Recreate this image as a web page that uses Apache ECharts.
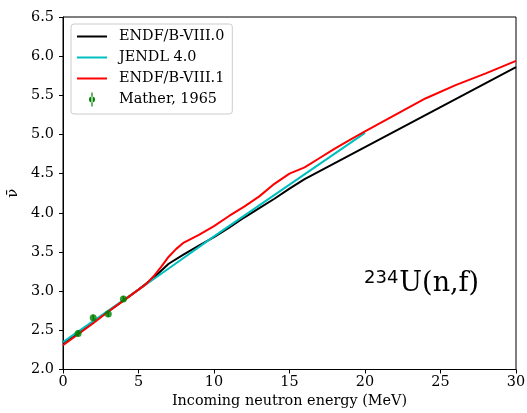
<!DOCTYPE html>
<html>
<head>
<meta charset="utf-8">
<script src="https://cdn.jsdelivr.net/npm/echarts@6/dist/echarts.min.js"></script>
<style>
  html, body { margin: 0; padding: 0; background: #fff; }
  #chart { width: 527px; height: 413px; }
</style>
</head>
<body>
<div id="chart"></div>
<script>
// Prompt fission neutron multiplicity for 234U(n,f)
const xTicks = [0, 5, 10, 15, 20, 25, 30];
const yTicks = [2.0, 2.5, 3.0, 3.5, 4.0, 4.5, 5.0, 5.5, 6.0, 6.5];

const energyEndf80 = [0, 1, 2, 3, 4, 5, 6, 7, 8, 9, 10, 11, 12, 13, 14, 15, 16, 20, 25, 30];
const nuEndf80 = [2.34, 2.47, 2.61, 2.74, 2.88, 3.02, 3.17, 3.35, 3.47, 3.58, 3.69, 3.81, 3.94, 4.06, 4.18, 4.31, 4.43, 4.84, 5.35, 5.86];

const energyJendl = [0, 5, 7, 10, 15, 20];
const nuJendl = [2.35, 3.02, 3.29, 3.70, 4.36, 5.02];

const energyEndf81 = [0, 1, 2, 3, 4, 5, 5.5, 6, 6.5, 7, 7.5, 8, 9, 10, 11, 12, 13, 14, 15, 16, 17, 18, 19, 20, 22, 24, 26, 28, 30];
const nuEndf81 = [2.31, 2.45, 2.59, 2.74, 2.88, 3.02, 3.09, 3.19, 3.31, 3.44, 3.54, 3.62, 3.72, 3.83, 3.96, 4.08, 4.21, 4.37, 4.50, 4.58, 4.70, 4.82, 4.93, 5.04, 5.25, 5.46, 5.63, 5.78, 5.94];

const energyMather = [1, 2, 3, 4];
const nuMather = [2.46, 2.66, 2.71, 2.90];
const errMather = [0.04, 0.04, 0.04, 0.04];

const FONT = 'DejaVu Serif';
const FS = 14.4;

// legend glyphs: a 2px stroke for the evaluations, a dot with error bar for the data
const LINE_ICON = 'path://M0,0 M30,14 M0,6 h30 v2 h-30 z';
const ERR_ICON = 'path://M4.4,0 h1.2 v14 h-1.2 z M8,7 a3,3 0 1,0 -6,0 a3,3 0 1,0 6,0 z';

const pairs = (xs, ys) => xs.map((x, i) => [x, ys[i]]);

const chart = echarts.init(document.getElementById('chart'), null, { renderer: 'canvas' });

const lineSeries = (name, xs, ys, color) => ({
  name: name,
  type: 'line',
  data: pairs(xs, ys),
  showSymbol: false,
  symbol: 'none',
  lineStyle: { color: color, width: 2 },
  itemStyle: { color: color },
  z: 3,
  animation: false
});

chart.setOption({
  animation: false,
  textStyle: { fontFamily: FONT },
  grid: {
    left: 63, right: 11, top: 17, bottom: 43.5,
    containLabel: false,
    outerBoundsMode: 'none',
    show: true, borderColor: '#000', borderWidth: 1, backgroundColor: 'transparent'
  },
  xAxis: {
    type: 'value',
    min: 0, max: 30, interval: 5,
    name: 'Incoming neutron energy (MeV)',
    nameLocation: 'middle',
    nameGap: 18,
    nameTextStyle: { fontFamily: FONT, fontSize: FS, color: '#000' },
    axisLine: { show: true, onZero: false, lineStyle: { color: '#000', width: 1 } },
    axisTick: { show: true, length: 4, lineStyle: { color: '#000' } },
    axisLabel: {
      margin: 6, fontFamily: FONT, fontSize: FS, color: '#000',
      formatter: v => String(v)
    },
    splitLine: { show: false }
  },
  yAxis: {
    type: 'value',
    min: 2.0, max: 6.5, interval: 0.5,
    name: 'ν̄',
    nameLocation: 'middle',
    nameRotate: 90,
    nameGap: 42,
    nameTextStyle: { fontFamily: FONT, fontSize: 15, color: '#000' },
    axisLine: { show: true, onZero: false, lineStyle: { color: '#000', width: 1 } },
    axisTick: { show: true, length: 4, lineStyle: { color: '#000' } },
    axisLabel: {
      margin: 9, fontFamily: FONT, fontSize: FS, color: '#000',
      formatter: v => v.toFixed(1)
    },
    splitLine: { show: false }
  },
  legend: {
    left: 71, top: 24,
    orient: 'vertical',
    padding: [5, 8, 7, 6],
    itemWidth: 30, itemHeight: 14, itemGap: 6,
    borderColor: '#cccccc', borderWidth: 1, borderRadius: 3,
    backgroundColor: 'rgba(255,255,255,0.8)',
    textStyle: { fontFamily: FONT, fontSize: FS, color: '#000', lineHeight: 15, padding: [0, 0, 0, 7] },
    data: [
      { name: 'ENDF/B-VIII.0', icon: LINE_ICON },
      { name: 'JENDL 4.0', icon: LINE_ICON },
      { name: 'ENDF/B-VIII.1', icon: LINE_ICON },
      { name: 'Mather, 1965', icon: ERR_ICON }
    ]
  },
  series: [
    lineSeries('ENDF/B-VIII.0', energyEndf80, nuEndf80, '#000000'),
    lineSeries('JENDL 4.0', energyJendl, nuJendl, '#00bfbf'),
    lineSeries('ENDF/B-VIII.1', energyEndf81, nuEndf81, '#ff0000'),
    {
      name: 'Mather, 1965',
      type: 'custom',
      data: energyMather.map((x, i) => [x, nuMather[i] - errMather[i], nuMather[i] + errMather[i]]),
      renderItem: (params, api) => {
        const lo = api.coord([api.value(0), api.value(1)]);
        const hi = api.coord([api.value(0), api.value(2)]);
        return {
          type: 'line',
          shape: { x1: lo[0], y1: lo[1], x2: hi[0], y2: hi[1] },
          style: { stroke: '#008000', lineWidth: 1.5 }
        };
      },
      itemStyle: { color: '#008000' },
      z: 4
    },
    {
      name: 'Mather, 1965',
      type: 'scatter',
      data: pairs(energyMather, nuMather),
      symbol: 'circle',
      symbolSize: 7,
      itemStyle: { color: '#008000' },
      z: 5
    }
  ],
  graphic: [
    {
      type: 'text',
      left: 364,
      top: 269,
      style: {
        text: '{sup|234}{main|U(n,f)}',
        rich: {
          sup: { fontFamily: 'DejaVu Sans', fontSize: 18, fill: '#000', verticalAlign: 'top', padding: [0, 1, 12, 0] },
          main: { fontFamily: FONT, fontSize: 27, fill: '#000' }
        }
      },
      z: 10
    }
  ]
});
</script>
</body>
</html>
